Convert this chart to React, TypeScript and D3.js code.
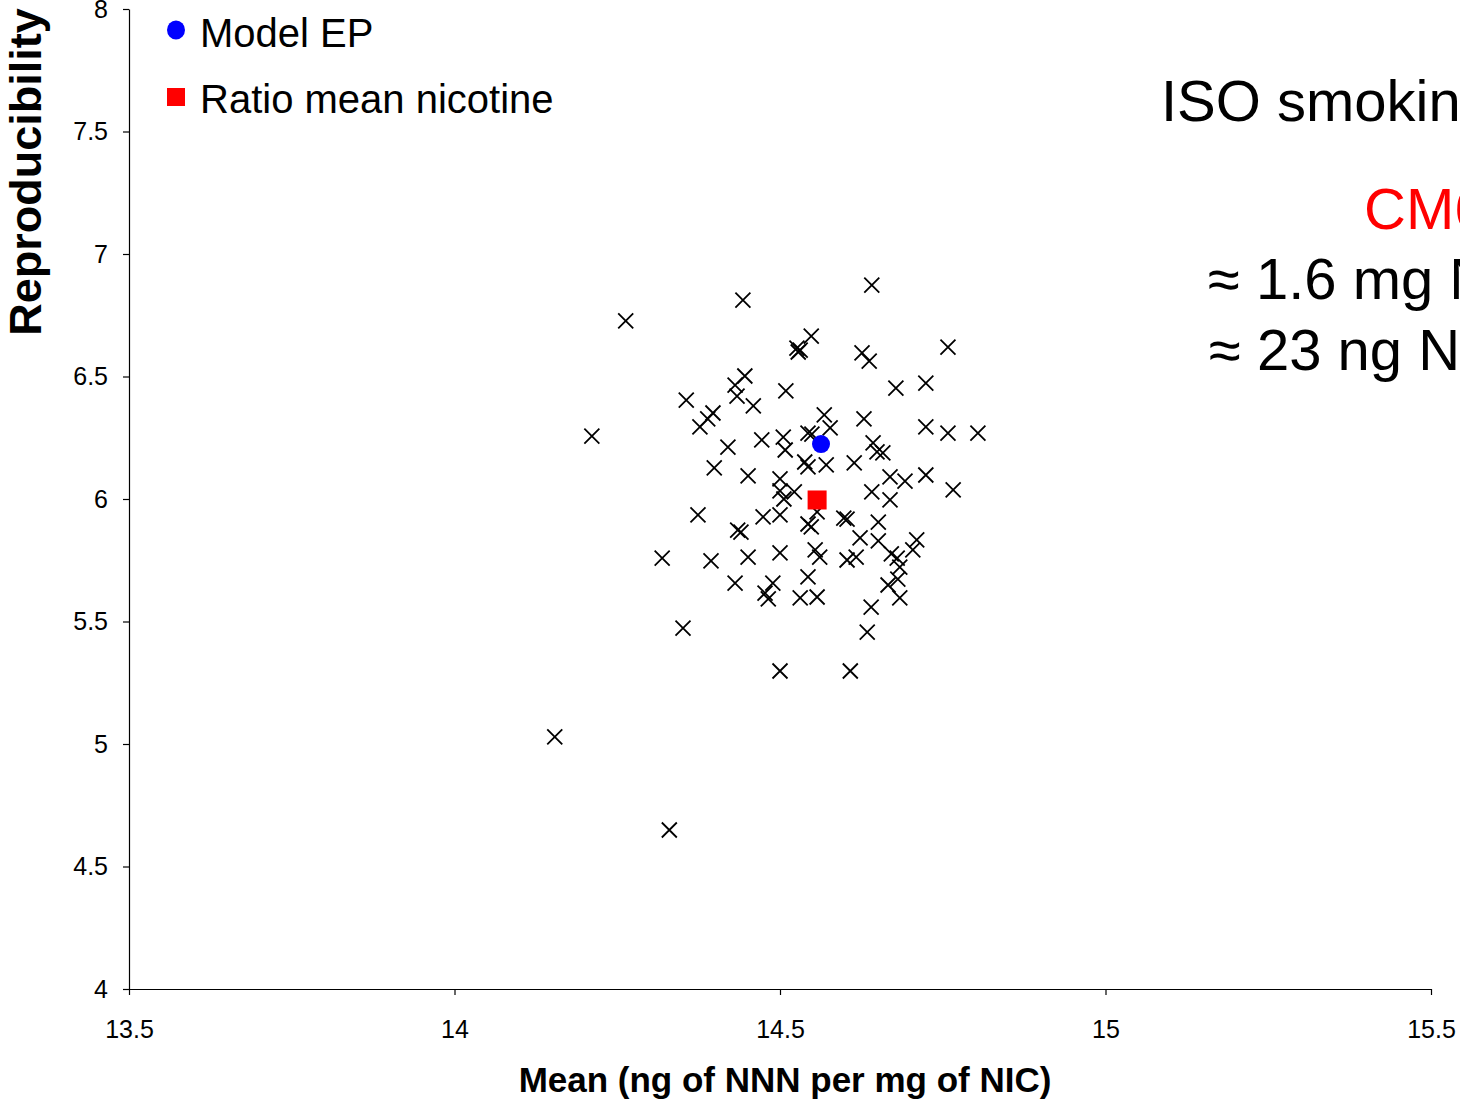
import React, { useEffect, useRef } from "react";
import * as d3 from "d3";

// mean NNN (ng per mg NIC) and reproducibility, one entry per simulated run
const meanValues = [
  14.263, 14.443, 14.641, 14.548, 14.526, 14.528, 14.531, 14.626, 14.637, 14.758,
  14.211, 14.356, 14.446, 14.431, 14.434, 14.459, 14.509, 14.397, 14.389, 14.377,
  14.678, 14.724, 14.568, 14.577, 14.629, 14.42, 14.472, 14.505, 14.508, 14.543,
  14.549, 14.643, 14.649, 14.658, 14.724, 14.758, 14.804, 14.399, 14.451, 14.538,
  14.543, 14.571, 14.614, 14.5, 14.5, 14.506, 14.522, 14.641, 14.669, 14.692,
  14.724, 14.766, 14.669, 14.374, 14.474, 14.5, 14.557, 14.543, 14.548, 14.598,
  14.603, 14.651, 14.435, 14.44, 14.623, 14.651, 14.71, 14.704, 14.319, 14.394,
  14.451, 14.5, 14.554, 14.561, 14.603, 14.617, 14.671, 14.68, 14.684, 14.681,
  14.666, 14.684, 14.431, 14.489, 14.477, 14.482, 14.543, 14.531, 14.557, 14.64,
  14.351, 14.634, 14.5, 14.608, 14.154, 14.33,
];
const reproValues = [
  6.727, 6.812, 6.873, 6.665, 6.616, 6.6, 6.608, 6.596, 6.563, 6.62,
  6.257, 6.404, 6.502, 6.465, 6.42, 6.38, 6.441, 6.351, 6.327, 6.294,
  6.453, 6.473, 6.343, 6.29, 6.327, 6.212, 6.241, 6.253, 6.2, 6.269,
  6.265, 6.229, 6.192, 6.188, 6.294, 6.269, 6.269, 6.127, 6.094, 6.151,
  6.131, 6.139, 6.147, 6.082, 6.033, 6.0, 6.029, 6.029, 6.09, 6.073,
  6.098, 6.037, 5.996, 5.935, 5.927, 5.935, 5.947, 5.898, 5.886, 5.922,
  5.918, 5.906, 5.873, 5.865, 5.841, 5.829, 5.833, 5.792, 5.759, 5.747,
  5.763, 5.78, 5.792, 5.763, 5.751, 5.763, 5.776, 5.759, 5.722, 5.673,
  5.649, 5.596, 5.657, 5.657, 5.616, 5.592, 5.682, 5.596, 5.6, 5.559,
  5.473, 5.457, 5.298, 5.298, 5.029, 4.649,
];
const modelEP = [14.563, 6.224];
const ratioMean = [14.557, 5.996];

const xTicks = [13.5, 14, 14.5, 15, 15.5];
const yTicks = [4, 4.5, 5, 5.5, 6, 6.5, 7, 7.5, 8];
const legendLabels = ["Model EP", "Ratio mean nicotine"];
const noteLines = ["ISO smoking regime", "CM6", "≈ 1.6 mg NIC", "≈ 23 ng NNN"];

const FONT = "'Liberation Sans', Arial, Helvetica, sans-serif";

const App = () => {
  const svg = useRef(null);

  useEffect(() => {
    const width = 1460;
    const height = 1102;
    const root = d3.select(svg.current);
    root.selectAll("*").remove();

    const x = d3.scaleLinear().domain([13.5, 15.5]).range([129, 1431]);
    const y = d3.scaleLinear().domain([4, 8]).range([989, 9]);

    root.attr("width", width).attr("height", height);

    // axes
    const xAxis = root
      .append("g")
      .attr("transform", `translate(0, ${y(4)})`)
      .call(
        d3.axisBottom(x).tickValues(xTicks).tickSize(6).tickSizeOuter(0).tickPadding(25).tickFormat((d) => String(d))
      );
    const yAxis = root
      .append("g")
      .attr("transform", `translate(${x(13.5)}, 0)`)
      .call(
        d3.axisLeft(y).tickValues(yTicks).tickSize(6).tickSizeOuter(0).tickPadding(15).tickFormat((d) => String(d))
      );
    [xAxis, yAxis].forEach((a) => {
      a.attr("font-family", FONT).attr("font-size", 25);
      a.selectAll("path,line").attr("stroke", "#000").attr("stroke-width", 1.2);
      a.selectAll("text").attr("fill", "#000");
    });

    // axis titles
    root
      .append("text")
      .attr("x", 785)
      .attr("y", 1092)
      .attr("text-anchor", "middle")
      .attr("font-family", FONT)
      .attr("font-weight", "bold")
      .attr("font-size", 35)
      .text("Mean (ng of NNN per mg of NIC)");
    root
      .append("text")
      .attr("transform", "translate(41, 172) rotate(-90)")
      .attr("text-anchor", "middle")
      .attr("font-family", FONT)
      .attr("font-weight", "bold")
      .attr("font-size", 45)
      .text("Reproducibility");

    // scatter crosses
    const s = 7.5;
    root
      .append("g")
      .selectAll("path")
      .data(meanValues.map((m, i) => [m, reproValues[i]]))
      .enter()
      .append("path")
      .attr(
        "d",
        (d) => {
          const cx = x(d[0]);
          const cy = y(d[1]);
          return `M${cx - s},${cy - s}L${cx + s},${cy + s}M${cx - s},${cy + s}L${cx + s},${cy - s}`;
        }
      )
      .attr("stroke", "#000")
      .attr("stroke-width", 1.8)
      .attr("fill", "none");

    // highlighted estimates
    root
      .append("circle")
      .attr("cx", x(modelEP[0]))
      .attr("cy", y(modelEP[1]))
      .attr("r", 9)
      .attr("fill", "#0000ff");
    root
      .append("rect")
      .attr("x", x(ratioMean[0]) - 9.5)
      .attr("y", y(ratioMean[1]) - 9.5)
      .attr("width", 19)
      .attr("height", 19)
      .attr("fill", "#ff0000");

    // legend
    const legend = root.append("g").attr("font-family", FONT).attr("font-size", 40);
    legend.append("ellipse").attr("cx", 176).attr("cy", 30).attr("rx", 9).attr("ry", 9.5).attr("fill", "#0000ff");
    legend.append("rect").attr("x", 167).attr("y", 88).attr("width", 18).attr("height", 18).attr("fill", "#ff0000");
    legend.append("text").attr("x", 200).attr("y", 47).text(legendLabels[0]);
    legend.append("text").attr("x", 200).attr("y", 113).text(legendLabels[1]);

    // note on the right (runs past the edge like the slide)
    const note = root.append("g").attr("font-family", FONT).attr("font-size", 58);
    note.append("text").attr("x", 1161).attr("y", 121).text(noteLines[0]);
    note.append("text").attr("x", 1364).attr("y", 229).attr("fill", "#ff0000").text(noteLines[1]);
    note.append("text").attr("x", 1208).attr("y", 299).text(noteLines[2]);
    note.append("text").attr("x", 1209).attr("y", 370).text(noteLines[3]);
  }, []);

  return (
    <div style={{ position: "absolute", left: 0, top: 0, width: 1460, height: 1102, overflow: "hidden", background: "#fff" }}>
      <svg ref={svg} style={{ display: "block" }} />
    </div>
  );
};

export default App;
